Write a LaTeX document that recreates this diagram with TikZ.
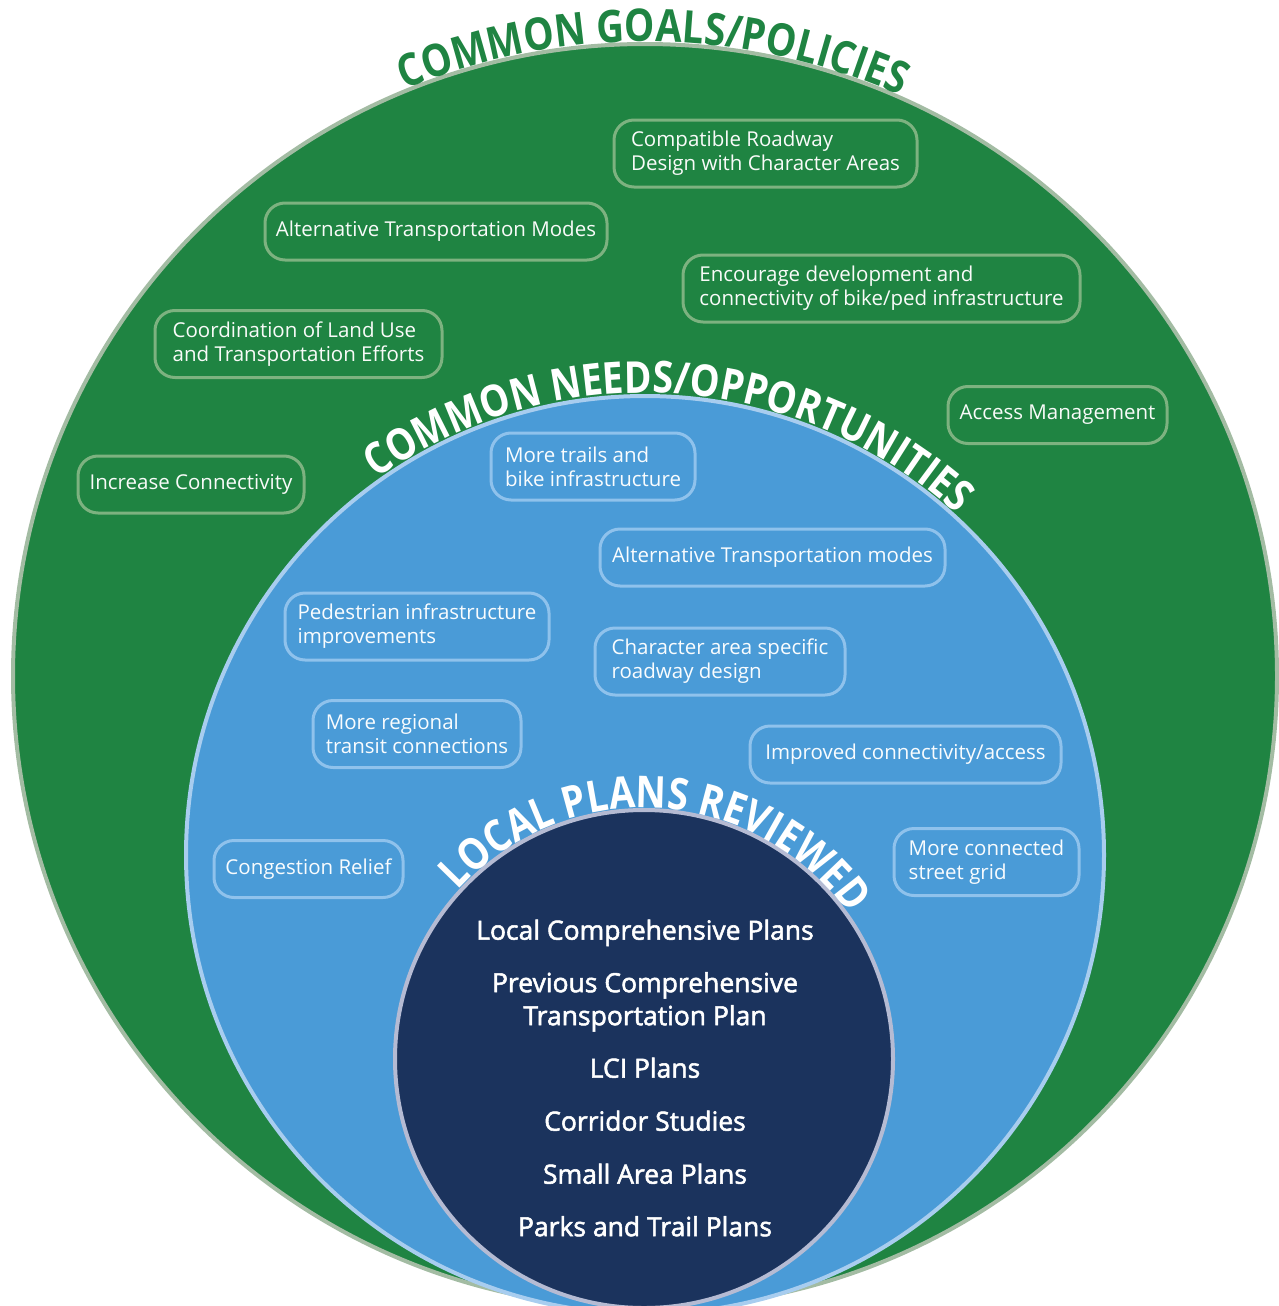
\documentclass[tikz,border=0pt]{standalone}
\usepackage{fontspec}
\setmainfont{Open Sans}
\newfontfamily\titlefont{Open Sans}[FakeStretch=0.85]
\newfontfamily\planfont{Open Sans}[FakeBold=2]
\usetikzlibrary{decorations.text,positioning}
\definecolor{ggreen}{RGB}{31,132,66}
\definecolor{gedge}{RGB}{163,188,163}
\definecolor{gline}{RGB}{125,178,128}
\definecolor{bblue}{RGB}{74,155,215}
\definecolor{bedge}{RGB}{168,205,239}
\definecolor{bline}{RGB}{143,194,236}
\definecolor{navy}{RGB}{27,51,93}
\definecolor{nedge}{RGB}{181,187,211}
\tikzstyle{ring} = [circle, inner sep=0pt, line width=4pt]
\tikzstyle{gbox} = [draw=gline, line width=3pt, rounded corners=20pt, text=white!95!gline, align=left, minimum height=57pt, inner xsep=8pt, inner ysep=10pt, font=\fontsize{20.5}{24}\selectfont]
\tikzstyle{bbox} = [gbox, draw=bline, text=white!95!bline]
\tikzstyle{arctitle} = [decorate, decoration={text along path, text align=center}]

\begin{document}
\begin{tikzpicture}[x=1pt, y=-1pt]
    \useasboundingbox (0,0) rectangle (1279,1306);
    \clip (0,0) rectangle (1279,1306);
    % the three rings
    \node [ring, fill=ggreen, draw=gedge, minimum size=1264pt] (goals) at (645,676) {};
    \node [ring, fill=bblue, draw=bedge, minimum size=918pt] (needs) at (645,855) {};
    \node [ring, fill=navy, draw=nedge, minimum size=498pt] (plans) at (644,1059) {};
    % curved titles
    \path [arctitle, decoration={text color=ggreen, text={|\titlefont\bfseries\fontsize{45}{50}\selectfont|COMMON GOALS/POLICIES}}]
        (goals.center) ++(200:634) arc [start angle=200, end angle=341.5, radius=634];
    \path [arctitle, decoration={text color=white, text={|\titlefont\bfseries\fontsize{44}{48}\selectfont|COMMON NEEDS/OPPORTUNITIES}}]
        (needs.center) ++(195:462) arc [start angle=195, end angle=352, radius=462];
    \path [arctitle, decoration={text color=white, text={|\titlefont\bfseries\fontsize{44}{48}\selectfont|LOCAL PLANS REVIEWED}}]
        (plans.center) ++(180:251) arc [start angle=180, end angle=367, radius=251];
    % goals/policies
    \node [gbox, minimum width=303pt, minimum height=67pt] (roadway) at (765.5,153.5) {Compatible Roadway\\Design with Character Areas};
    \node [gbox, minimum width=342pt] (altmodes) at (436,231.5) {Alternative Transportation Modes};
    \node [gbox, minimum width=397pt, minimum height=67pt] (bikeped) at (881.5,288.5) {Encourage development and\\connectivity of bike/ped infrastructure};
    \node [gbox, minimum width=287pt, minimum height=67pt] (landuse) at (298.5,344) {Coordination of Land Use\\and Transportation Efforts};
    \node [gbox, minimum width=219pt] (access) at (1057.5,415) {Access Management};
    \node [gbox, minimum width=226pt] (connect) at (191,484.5) {Increase Connectivity};
    % needs/opportunities
    \node [bbox, minimum width=204pt, minimum height=67pt] (trails) at (593,466.5) {More trails and\\bike infrastructure};
    \node [bbox, minimum width=345pt] (altneeds) at (772.5,557.5) {Alternative Transportation modes};
    \node [bbox, minimum width=264pt, minimum height=67pt] (pedinfra) at (417,626.5) {Pedestrian infrastructure\\improvements};
    \node [bbox, minimum width=250pt, minimum height=67pt] (charea) at (720,661.5) {Character area specific\\roadway design};
    \node [bbox, minimum width=208pt, minimum height=67pt] (transit) at (417,734) {More regional\\transit connections};
    \node [bbox, minimum width=311pt] (improved) at (905.5,754.5) {Improved connectivity/access};
    \node [bbox, minimum width=189pt] (congest) at (308.5,869) {Congestion Relief};
    \node [bbox, minimum width=185pt, minimum height=67pt] (grid) at (986.5,862) {More connected\\street grid};
    % plans reviewed
    \node [text=white, align=center, font=\planfont\fontsize{26.5}{33}\selectfont] (planlist) at (645,1078)
        {Local Comprehensive Plans\\[19.5pt]
         Previous Comprehensive\\Transportation Plan\\[19.5pt]
         LCI Plans\\[20pt]
         Corridor Studies\\[20pt]
         Small Area Plans\\[19.5pt]
         Parks and Trail Plans};
\end{tikzpicture}
\end{document}
